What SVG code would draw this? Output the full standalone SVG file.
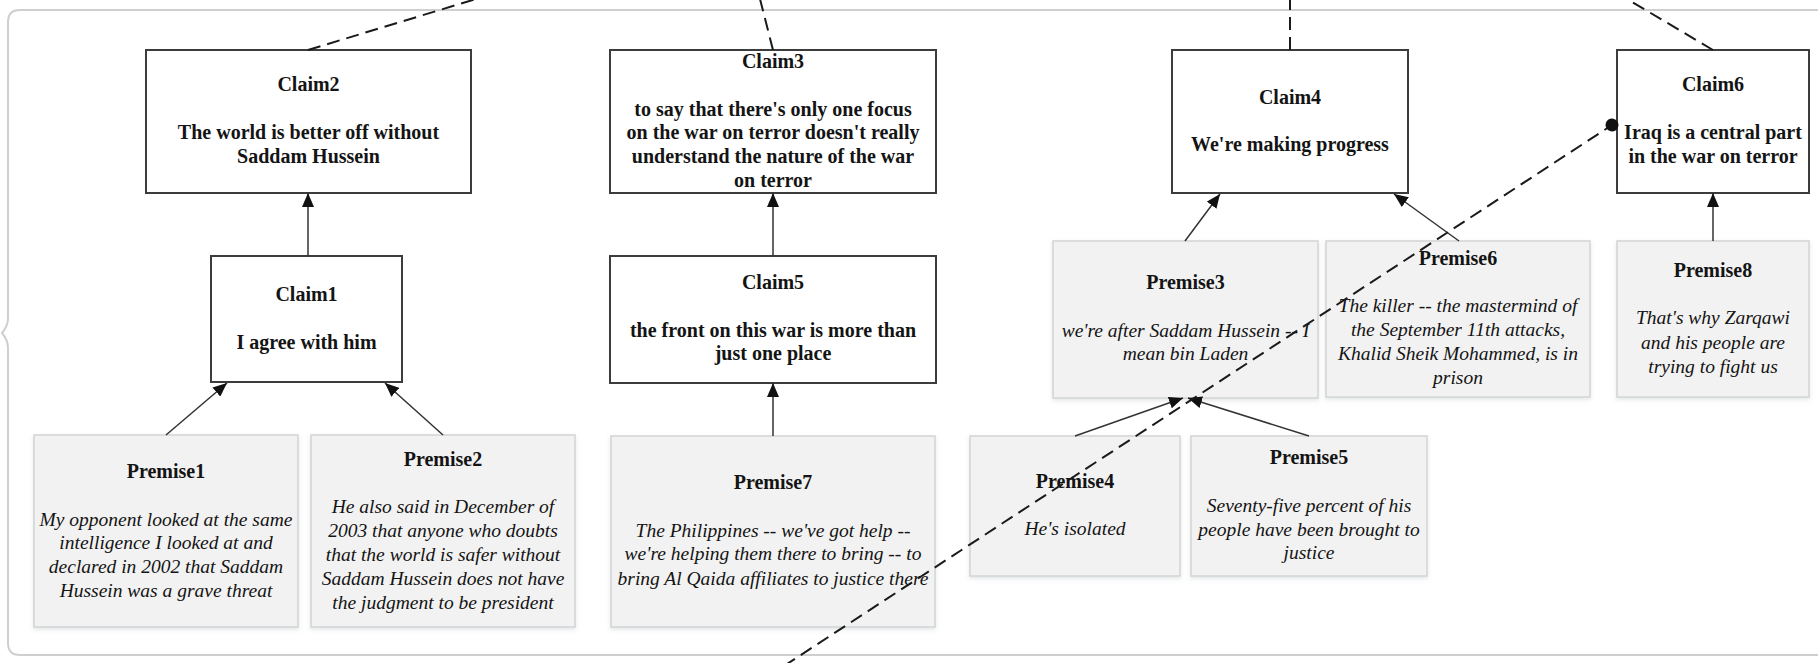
<svg xmlns="http://www.w3.org/2000/svg" width="1818" height="663" viewBox="0 0 1818 663">
  <defs>
    <style>
      .claim { fill: #ffffff; stroke: #3c3c3c; stroke-width: 2; }
      .premise { fill: #f2f2f2; stroke: #d4d4d4; stroke-width: 1.5; filter: url(#shadow); }
      .t { font-family: "Liberation Serif", "Times New Roman", serif; font-size: 20px; fill: #141414; text-anchor: middle; }
      .b { font-weight: bold; }
      .i { font-style: italic; font-size: 19.5px; }
      .support { stroke: #333333; stroke-width: 1.5; fill: none; marker-end: url(#arrow); }
      .link { stroke: #1a1a1a; stroke-width: 2; fill: none; stroke-dasharray: 13 7; }
      .frame { fill: none; stroke: #cfcfcf; stroke-width: 2; }
    </style>
    <marker id="arrow" markerUnits="userSpaceOnUse" markerWidth="14" markerHeight="12" viewBox="0 0 14 12" refX="14" refY="6" orient="auto">
      <path d="M0,0 L14,6 L0,12 Z" fill="#111111"/>
    </marker>
    <marker id="dot" markerUnits="userSpaceOnUse" markerWidth="14" markerHeight="14" viewBox="0 0 14 14" refX="7" refY="7" orient="auto">
      <circle cx="7" cy="7" r="6.5" fill="#111111"/>
    </marker>
    <filter id="shadow" x="-5%" y="-5%" width="110%" height="115%">
      <feDropShadow dx="0" dy="2" stdDeviation="2" flood-color="#8a9aa8" flood-opacity="0.25"/>
    </filter>
  </defs>

  <rect width="1818" height="663" fill="#ffffff"/>

  <!-- enclosing group frame with brace notch on the left -->
  <path class="frame" d="M1830,10 L20,10 Q8,10 8,22 L8,318 Q8,326 2,333 Q8,340 8,348 L8,643 Q8,655 20,655 L1830,655"/>

  <!-- claims -->
  <g id="claim2">
    <rect class="claim" x="146" y="50" width="325" height="143"/>
    <text class="t b" x="308.5" y="91">Claim2</text>
    <text class="t b" x="308.5" y="139">The world is better off without</text>
    <text class="t b" x="308.5" y="163">Saddam Hussein</text>
  </g>
  <g id="claim1">
    <rect class="claim" x="211" y="256" width="191" height="126"/>
    <text class="t b" x="306.5" y="301">Claim1</text>
    <text class="t b" x="306.5" y="349">I agree with him</text>
  </g>
  <g id="claim3">
    <rect class="claim" x="610" y="50" width="326" height="143"/>
    <text class="t b" x="773" y="68">Claim3</text>
    <text class="t b" x="773" y="116">to say that there's only one focus</text>
    <text class="t b" x="773" y="139">on the war on terror doesn't really</text>
    <text class="t b" x="773" y="163">understand the nature of the war</text>
    <text class="t b" x="773" y="187">on terror</text>
  </g>
  <g id="claim5">
    <rect class="claim" x="610" y="256" width="326" height="127"/>
    <text class="t b" x="773" y="289">Claim5</text>
    <text class="t b" x="773" y="337">the front on this war is more than</text>
    <text class="t b" x="773" y="360">just one place</text>
  </g>
  <g id="claim4">
    <rect class="claim" x="1172" y="50" width="236" height="143"/>
    <text class="t b" x="1290" y="104">Claim4</text>
    <text class="t b" x="1290" y="151">We're making progress</text>
  </g>
  <g id="claim6">
    <rect class="claim" x="1617" y="50" width="192" height="143"/>
    <text class="t b" x="1713" y="91">Claim6</text>
    <text class="t b" x="1713" y="139">Iraq is a central part</text>
    <text class="t b" x="1713" y="163">in the war on terror</text>
  </g>

  <!-- premises -->
  <g id="premise1">
    <rect class="premise" x="34" y="435" width="264" height="192"/>
    <text class="t b" x="166" y="478">Premise1</text>
    <text class="t i" x="166" y="526">My opponent looked at the same</text>
    <text class="t i" x="166" y="549">intelligence I looked at and</text>
    <text class="t i" x="166" y="573">declared in 2002 that Saddam</text>
    <text class="t i" x="166" y="597">Hussein was a grave threat</text>
  </g>
  <g id="premise2">
    <rect class="premise" x="311" y="435" width="264" height="192"/>
    <text class="t b" x="443" y="466">Premise2</text>
    <text class="t i" x="443" y="513">He also said in December of</text>
    <text class="t i" x="443" y="537">2003 that anyone who doubts</text>
    <text class="t i" x="443" y="561">that the world is safer without</text>
    <text class="t i" x="443" y="585">Saddam Hussein does not have</text>
    <text class="t i" x="443" y="609">the judgment to be president</text>
  </g>
  <g id="premise7">
    <rect class="premise" x="611" y="436" width="324" height="191"/>
    <text class="t b" x="773" y="489">Premise7</text>
    <text class="t i" x="773" y="537">The Philippines -- we've got help --</text>
    <text class="t i" x="773" y="560">we're helping them there to bring -- to</text>
    <text class="t i" x="773" y="585">bring Al Qaida affiliates to justice there</text>
  </g>
  <g id="premise3">
    <rect class="premise" x="1053" y="241" width="265" height="157"/>
    <text class="t b" x="1185.5" y="289">Premise3</text>
    <text class="t i" x="1185.5" y="337">we're after Saddam Hussein -- I</text>
    <text class="t i" x="1185.5" y="360">mean bin Laden</text>
  </g>
  <g id="premise6">
    <rect class="premise" x="1326" y="241" width="264" height="156"/>
    <text class="t b" x="1458" y="265">Premise6</text>
    <text class="t i" x="1458" y="312">The killer -- the mastermind of</text>
    <text class="t i" x="1458" y="336">the September 11th attacks,</text>
    <text class="t i" x="1458" y="360">Khalid Sheik Mohammed, is in</text>
    <text class="t i" x="1458" y="384">prison</text>
  </g>
  <g id="premise8">
    <rect class="premise" x="1617" y="241" width="192" height="156"/>
    <text class="t b" x="1713" y="277">Premise8</text>
    <text class="t i" x="1713" y="324">That's why Zarqawi</text>
    <text class="t i" x="1713" y="349">and his people are</text>
    <text class="t i" x="1713" y="373">trying to fight us</text>
  </g>
  <g id="premise4">
    <rect class="premise" x="970" y="436" width="210" height="140"/>
    <text class="t b" x="1075" y="488">Premise4</text>
    <text class="t i" x="1075" y="535">He's isolated</text>
  </g>
  <g id="premise5">
    <rect class="premise" x="1191" y="436" width="236" height="140"/>
    <text class="t b" x="1309" y="464">Premise5</text>
    <text class="t i" x="1309" y="512">Seventy-five percent of his</text>
    <text class="t i" x="1309" y="536">people have been brought to</text>
    <text class="t i" x="1309" y="559">justice</text>
  </g>

  <!-- connectors, drawn last so the dashed links cross over the boxes -->
  <g id="connectors">
    <line class="support" x1="308" y1="256" x2="308" y2="193"/>
    <line class="support" x1="166" y1="435" x2="227" y2="383"/>
    <line class="support" x1="443" y1="435" x2="385" y2="383"/>
    <line class="support" x1="773" y1="256" x2="773" y2="193"/>
    <line class="support" x1="773" y1="436" x2="773" y2="383"/>
    <line class="support" x1="1185" y1="241" x2="1220" y2="194"/>
    <line class="support" x1="1459" y1="241" x2="1394" y2="194"/>
    <line class="support" x1="1713" y1="241" x2="1713" y2="193"/>
    <line class="support" x1="1075" y1="436" x2="1183" y2="398"/>
    <line class="support" x1="1309" y1="436" x2="1188" y2="398"/>

    <line class="link" x1="308" y1="50" x2="476" y2="-1"/>
    <line class="link" x1="773" y1="50" x2="760" y2="-1"/>
    <line class="link" x1="1290" y1="50" x2="1290" y2="-1"/>
    <line class="link" x1="1713" y1="50" x2="1627" y2="-1"/>
    <line class="link" x1="784" y1="666" x2="1612" y2="125" marker-end="url(#dot)"/>
  </g>
</svg>
